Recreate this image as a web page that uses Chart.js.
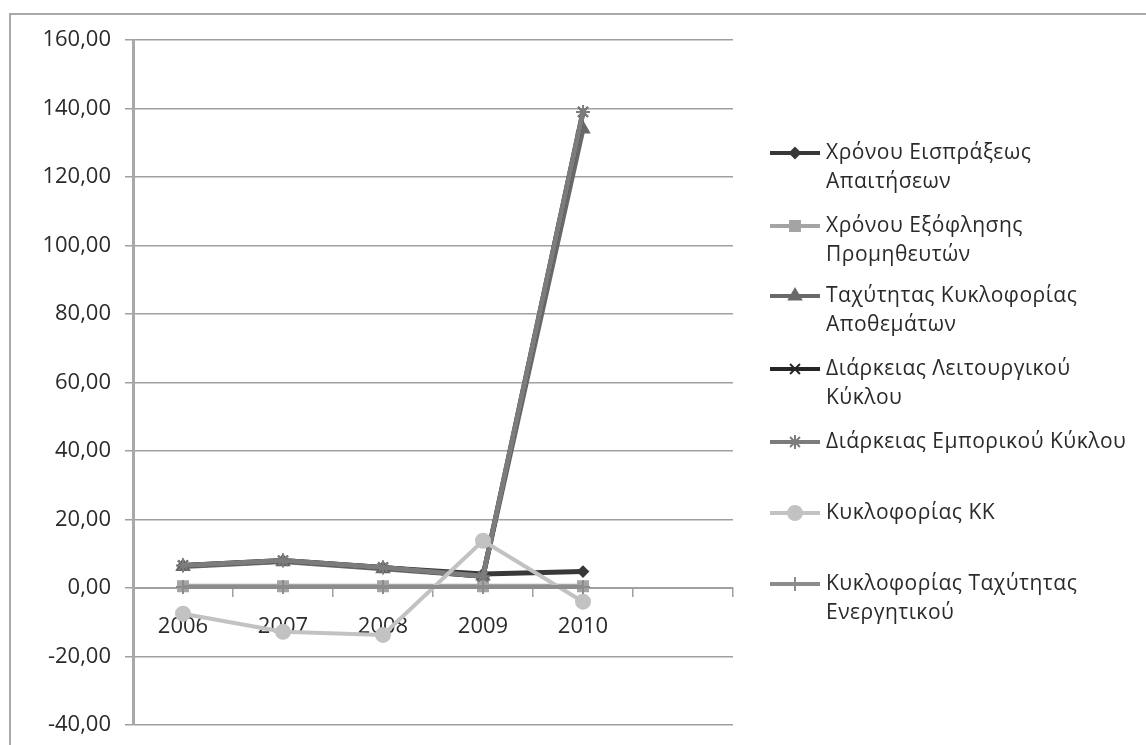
<!DOCTYPE html>
<html>
<head>
<meta charset="utf-8">
<script src="https://cdn.jsdelivr.net/npm/chart.js@4.4.1/dist/chart.umd.min.js"></script>
<style>
body{margin:0;background:#fff;}
#wrap{position:relative;width:1146px;height:745px;overflow:hidden;}
#frame{position:absolute;left:9px;top:13px;width:1200px;height:800px;border-top:2px solid #a8a8a8;border-left:2px solid #a8a8a8;}
canvas{position:absolute;left:0;top:0;}
</style>
</head>
<body>
<div id="wrap">
<div id="frame"></div>
<canvas id="chart" width="1146" height="745"></canvas>
</div>
<script>

// categories (last one is an empty slot, like the original sheet)
let years=["2006","2007","2008","2009","2010",""];

// series values
let eispraxeos=[6.5,7.9,5.9,4.1,4.8];
let exoflisis=[0.5,0.5,0.5,0.5,0.5];
let apothematon=[6.3,7.7,5.6,3.5,134];
let leitourgikou=[6.6,8.0,6.0,3.4,139];
let emporikou=[6.6,8.0,6.0,3.4,139];
let kykloforiasKK=[-7.5,-12.8,-13.7,13.8,-4.0];
let energitikou=[0.3,0.3,0.3,0.3,0.3];

let yTicks=[-40,-20,0,20,40,60,80,100,120,140,160];

let names=[
["Χρόνου Εισπράξεως","Απαιτήσεων"],
["Χρόνου Εξόφλησης","Προμηθευτών"],
["Ταχύτητας Κυκλοφορίας","Αποθεμάτων"],
["Διάρκειας Λειτουργικού","Κύκλου"],
["Διάρκειας Εμπορικού Κύκλου"],
["Κυκλοφορίας ΚΚ"],
["Κυκλοφορίας Ταχύτητας","Ενεργητικού"]
];

let colors=["#383838","#a4a4a4","#696969","#262626","#7c7c7c","#c2c2c2","#8c8c8c"];
let markers=["rectRot","rect","triangle","crossRot","star","circle","cross"];
let sizes=[5,7,7,7,7,7,7];
let widths=[5,5,5,5,5,4,4];
let legendY=[153,226,296,369,442,513,584];

let values=[eispraxeos,exoflisis,apothematon,leitourgikou,emporikou,kykloforiasKK,energitikou];

let datasets=values.map((v,i)=>({
label:names[i].join(" "),
data:v,
borderColor:colors[i],
backgroundColor:colors[i],
pointStyle:markers[i],
pointRadius:sizes[i],
pointBorderWidth:2,
borderWidth:widths[i],
tension:0,
order:7-i
}));

let fontName="'Open Sans', sans-serif";

let legendPlugin={
id:"sideLegend",
afterDraw(chart){
let ctx=chart.ctx;
ctx.save();
names.forEach((lines,i)=>{
let y=legendY[i];
ctx.strokeStyle=colors[i];
ctx.lineWidth=4;
ctx.beginPath();
ctx.moveTo(770,y);
ctx.lineTo(820,y);
ctx.stroke();
ctx.fillStyle=colors[i];
ctx.lineWidth=2;
Chart.helpers.drawPoint(ctx,{pointStyle:markers[i],radius:sizes[i],borderWidth:2,rotation:0},795,y);
ctx.fillStyle="#2a2a2a";
ctx.font="21px "+fontName;
ctx.letterSpacing="0.5px";
ctx.textBaseline="middle";
ctx.textAlign="left";
lines.forEach((t,k)=>{
ctx.fillText(t,826,y+k*29);
});
});
ctx.restore();
}
};

new Chart(document.getElementById("chart"),{
type:"line",
data:{labels:years,datasets:datasets},
plugins:[legendPlugin],
options:{
responsive:false,
animation:false,
layout:{padding:{left:0,top:40,right:413,bottom:20}},
plugins:{legend:{display:false},tooltip:{enabled:false}},
scales:{
x:{
position:{y:0},
offset:true,
afterFit(scale){scale.height=0;},
grid:{display:true,drawOnChartArea:false,drawTicks:true,tickLength:8,color:"#a0a0a0",lineWidth:1.5,offset:true},
border:{color:"#a0a0a0",width:2},
ticks:{color:"#2a2a2a",font:{family:fontName,size:22},padding:18,maxRotation:0}
},
y:{
min:-40,
max:160,
afterFit(scale){scale.width=133;scale.paddingTop=0;scale.paddingBottom=0;},
afterBuildTicks(scale){scale.ticks=yTicks.map(v=>({value:v}));},
grid:{color:"#a0a0a0",lineWidth:1.5,tickLength:8},
border:{color:"#a8a8a8",width:3},
ticks:{
color:"#2a2a2a",
font:{family:fontName,size:22},
padding:14,
callback:v=>v.toFixed(2).replace(".",",")
}
}
}
}
});

</script>
</body>
</html>
